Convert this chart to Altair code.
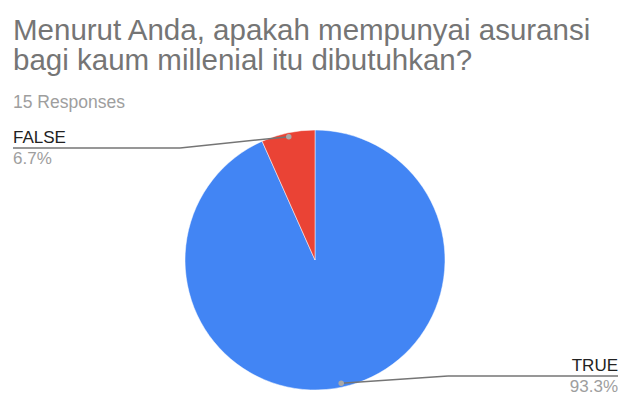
import altair as alt
import pandas as pd

# ---- data ----
categories = ["TRUE", "FALSE"]
counts = [14, 1]
colors = ["#4285F4", "#EA4335"]

title_lines = ["Menurut Anda, apakah mempunyai asuransi", "bagi kaum millenial itu dibutuhkan?"]
subtitle = "15 Responses"

df = pd.DataFrame({"category": categories, "count": counts, "idx": list(range(len(categories)))})

# ---- layout (pixels) ----
W, H = 618, 394
CX, CY, R = 315, 260, 130
DOT_F = 0.97
ELBOW_L, ELBOW_R = 180, 448
END_L, END_R = 13, 618
LINE_Y_L, LINE_Y_R = 148, 376
FONT = "Liberation Sans"

base = alt.Chart(df)

pie = base.mark_arc(radius=R, stroke="#ffffff", strokeWidth=0.5).encode(
    theta=alt.Theta("count:Q", stack=True),
    color=alt.Color("category:N", scale=alt.Scale(domain=categories, range=colors), legend=None),
    order=alt.Order("idx:Q"),
    x=alt.value(CX),
    y=alt.value(CY),
)

ann = base.transform_joinaggregate(total="sum(count)").transform_window(
    cum="sum(count)", sort=[alt.SortField("idx")], frame=[None, 0]
).transform_calculate(
    mid="(datum.cum - datum.count/2) / datum.total * 2 * PI",
    pct="format(datum.count / datum.total * 100, '.1f') + '%'",
).transform_calculate(
    dot_x=f"{CX} + {DOT_F * R} * sin(datum.mid)",
    dot_y=f"{CY} - {DOT_F * R} * cos(datum.mid)",
    side="sin(datum.mid) >= 0 ? 'R' : 'L'",
).transform_calculate(
    elbow_x=f"datum.side == 'R' ? {ELBOW_R} : {ELBOW_L}",
    end_x=f"datum.side == 'R' ? {END_R} : {END_L}",
    line_y=f"datum.side == 'R' ? {LINE_Y_R} : {LINE_Y_L}",
).transform_calculate(
    cat_y="datum.line_y - 5",
    pct_y="datum.line_y + 16",
)

def px(f):
    return alt.X(f"{f}:Q", scale=None, axis=None)

def py(f):
    return alt.Y(f"{f}:Q", scale=None, axis=None)

leader1 = ann.mark_rule(color="#757575", strokeWidth=1.5).encode(
    x=px("dot_x"), y=py("dot_y"), x2="elbow_x:Q", y2="line_y:Q"
)
leader2 = ann.mark_rule(color="#757575", strokeWidth=1.5).encode(
    x=px("elbow_x"), y=py("line_y"), x2="end_x:Q", y2="line_y:Q"
)
dots = ann.mark_circle(color="#a8a8a8", opacity=1, size=30).encode(
    x=px("dot_x"), y=py("dot_y")
)

def labels(side, align):
    a = ann.transform_filter(f"datum.side == '{side}'")
    cat = a.mark_text(align=align, baseline="alphabetic", font=FONT, fontSize=17, color="#222222").encode(
        x=px("end_x"), y=py("cat_y"), text="category:N"
    )
    pc = a.mark_text(align=align, baseline="alphabetic", font=FONT, fontSize=17, color="#9e9e9e").encode(
        x=px("end_x"), y=py("pct_y"), text="pct:N"
    )
    return cat + pc

title = alt.Chart(pd.DataFrame({"t": [0]})).mark_text(
    text=title_lines, align="left", baseline="alphabetic", font=FONT, fontSize=29.5,
    lineHeight=30, color="#757575"
).encode(x=alt.value(13), y=alt.value(40))

sub = alt.Chart(pd.DataFrame({"t": [0]})).mark_text(
    text=subtitle, align="left", baseline="alphabetic", font=FONT, fontSize=17.5, color="#9e9e9e"
).encode(x=alt.value(13), y=alt.value(108))

chart = alt.layer(
    pie, leader1, leader2, dots, labels("L", "left"), labels("R", "right"), title, sub
).resolve_scale(x="independent", y="independent").properties(
    width=W, height=H, padding=0, autosize="none", background="#ffffff"
).configure_view(stroke=None)

chart.save("out.html", embed_options={"renderer": "svg", "actions": False})
